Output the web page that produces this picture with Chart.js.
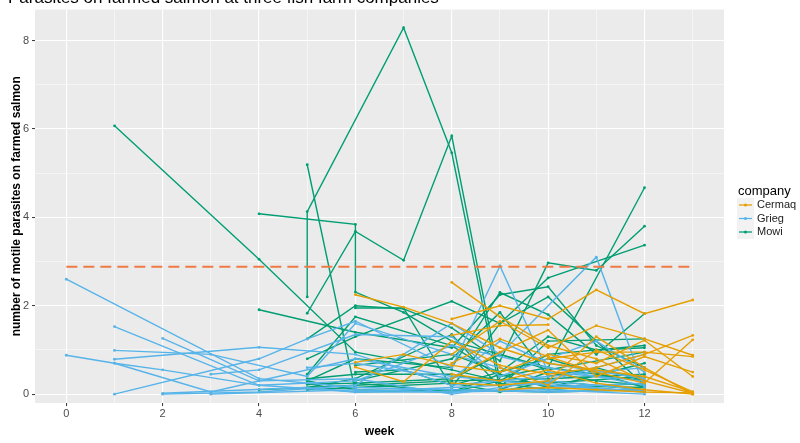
<!DOCTYPE html>
<html>
<head>
<meta charset="utf-8">
<script src="https://cdn.jsdelivr.net/npm/chart.js@4"></script>
<style>
html,body{margin:0;padding:0;background:#fff;}
</style>
</head>
<body>
<canvas id="chart" width="800" height="443"></canvas>
<script>
// tick labels
const weekTicks = [0,1,2,3,4,5,6,7,8,9,10,11,12,13];
const countTicks = [0,1,2,3,4,5,6,7,8];

const companies = ['Cermaq', 'Grieg', 'Mowi'];
const companyColors = ['#E69F00', '#56B4E9', '#009E73'];

// threshold (dashed)
const thresholdWeeks = [0, 13];
const thresholdValue = 2.88;

// one line per farm: [week, motile parasites]
const cermaqFarms = [
  [[6,2.25],[7,1.97],[8,1.6],[9,1.05],[10,0.7],[12,0.4],[13,0.05]],
  [[8,2.53],[9,1.75],[10,1.1],[11,0.8],[12,0.3],[13,0.02]],
  [[8,1.7],[9,2.0],[10,1.7],[11,2.36],[12,1.82],[13,2.13]],
  [[8,1.33],[9,1.55],[10,1.57]],
  [[8,0.9],[9,1.65],[10,1.05],[11,1.55],[12,1.25],[13,0.88]],
  [[6,0.72],[7,0.9],[8,0.65],[9,0.5],[10,0.9],[11,0.7],[12,1.22],[13,0.4]],
  [[6,0.61],[7,0.28],[8,1.2],[9,0.65],[10,0.45],[11,0.6],[12,0.9],[13,1.33]],
  [[8,0.7],[9,1.25],[10,0.85],[11,0.5],[12,0.25],[13,1.23]],
  [[8,0.35],[9,0.95],[10,1.45],[11,0.4],[12,0.85],[13,0.5]],
  [[8,0.45],[9,0.3],[10,0.55],[11,0.25],[12,0.1],[13,0.0]],
  [[9,0.6],[10,0.2],[11,1.0],[12,0.55],[13,0.05]],
  [[8,0.25],[9,0.2],[10,0.3],[11,1.3],[12,0.6],[13,0.0]],
  [[10,0.8],[11,0.95],[12,0.95],[13,0.85]],
  [[9,0.1],[10,0.15],[11,0.1],[12,0.05],[13,0.03]]
];

const griegFarms = [
  [[0,2.6],[4,0.35],[6,0.15],[8,0.1],[10,0.05],[12,0.1]],
  [[0,0.88],[1,0.7],[3,0.05],[6,0.8],[8,0.4],[10,0.2],[12,0.05]],
  [[1,1.53],[4,0.2],[6,0.3],[8,1.1],[10,0.6],[12,0.2]],
  [[1,0.99],[3,0.9],[5,0.4],[6,1.6],[8,0.9],[10,0.3],[12,0.1]],
  [[1,0.79],[4,1.06],[6,0.9],[8,0.2],[10,0.4],[12,0.6]],
  [[1,0.7],[2,0.55],[4,0.2],[6,0.05],[8,0.15],[10,0.25],[12,0.05]],
  [[1,0.0],[4,0.8],[5,1.25],[6,1.65],[8,0.6],[9,2.9],[10,0.5],[12,0.3]],
  [[2,0.0],[4,0.05],[6,0.2],[8,1.6],[9,0.9],[11,3.1],[12,0.15]],
  [[2,1.26],[4,0.3],[6,0.35],[8,0.0],[10,0.3],[12,0.9]],
  [[2,0.02],[5,0.15],[6,0.05],[8,0.05],[10,0.15],[12,0.25]],
  [[3,0.45],[4,0.55],[6,1.35],[8,1.3],[9,0.4],[11,1.2],[12,0.5]],
  [[3,0.0],[6,0.1],[8,0.05],[10,0.1],[12,0.0]],
  [[5,0.6],[6,0.7],[8,0.35],[9,1.2],[10,0.7],[12,0.35]]
];

const mowiFarms = [
  [[1,6.07],[4,3.05],[6,0.95],[8,0.55],[9,0.3],[10,0.2],[12,0.15]],
  [[4,4.08],[6,3.84],[6,2.31],[7,1.85],[8,1.2],[10,0.6],[12,0.3]],
  [[5,1.83],[6,3.68],[7,3.03],[8,5.84],[9,0.3],[10,0.9],[12,1.1]],
  [[5,5.19],[6,0.05],[8,0.1],[10,0.05],[12,0.1]],
  [[5,2.2],[5,4.13],[7,8.29],[8,5.46],[9,0.1],[10,0.5],[11,0.3],[12,0.2]],
  [[4,1.91],[6,1.4],[8,1.05],[9,2.25],[10,2.43],[11,1.1],[12,0.6]],
  [[5,1.25],[6,2.0],[7,1.93],[8,1.5],[9,0.75],[10,2.97],[11,2.8],[12,3.8]],
  [[5,0.8],[6,1.3],[8,2.1],[9,1.6],[10,2.63],[12,3.37]],
  [[5,0.45],[6,1.75],[8,1.1],[9,0.4],[10,0.6],[12,4.67]],
  [[5,0.3],[6,0.8],[8,0.6],[9,2.3],[10,1.8],[11,0.9],[12,1.82]],
  [[5,0.15],[6,0.35],[8,1.35],[9,0.15],[10,1.2],[12,1.25]],
  [[5,0.22],[6,0.25],[8,0.35],[9,0.9],[10,0.55],[12,0.95]],
  [[5,0.3],[6,0.1],[8,0.05],[9,0.3],[10,0.25],[12,0.4]],
  [[6,1.95],[7,1.95],[8,0.15],[9,1.6],[10,2.2],[12,0.2]],
  [[6,0.3],[8,0.8],[9,1.85],[10,0.4],[11,0.6],[12,0.3]],
  [[4,0.1],[6,0.2],[8,0.3],[10,0.35],[12,0.45]],
  [[6,0.5],[7,0.55],[8,0.2],[10,0.8],[12,0.15]],
  [[5,0.35],[6,0.45],[8,0.45],[9,0.25],[10,0.1],[12,0.25]],
  [[6,0.65],[8,0.9],[9,0.5],[10,1.3],[11,1.0],[12,1.05]],
  [[5,0.1],[6,0.15],[8,0.25],[9,0.05],[10,0.3],[12,0.1]],
  [[6,0.25],[8,0.05],[9,0.45],[10,0.15],[12,0.7]]
];

const farmGroups = [cermaqFarms, griegFarms, mowiFarms];

const datasets = [{
  label: 'threshold',
  data: thresholdWeeks.map(w => ({x: w, y: thresholdValue})),
  borderColor: '#EE7B45',
  borderWidth: 2,
  borderDash: [11, 6],
  pointRadius: 0
}];

farmGroups.forEach((farms, c) => {
  farms.forEach((f, i) => {
    datasets.push({
      label: companies[c] + ' ' + (i + 1),
      data: f.map(p => ({x: p[0], y: p[1]})),
      borderColor: companyColors[c],
      backgroundColor: companyColors[c],
      borderWidth: 1.4,
      pointRadius: 1.4,
      pointBorderWidth: 0,
      tension: 0
    });
  });
});

const isMajor = v => v % 2 === 0;

const panelBg = {
  id: 'panelBg',
  beforeDraw(chart) {
    const a = chart.chartArea, ctx = chart.ctx;
    ctx.save();
    ctx.fillStyle = '#EBEBEB';
    ctx.fillRect(a.left, a.top, a.right - a.left, a.bottom - a.top);
    ctx.restore();
  }
};

const texts = {
  id: 'texts',
  afterDraw(chart) {
    const a = chart.chartArea, ctx = chart.ctx;
    ctx.save();
    ctx.fillStyle = '#000';
    ctx.font = '17px "Liberation Sans", Arial, sans-serif';
    ctx.textAlign = 'left';
    ctx.textBaseline = 'alphabetic';
    ctx.fillText('Parasites on farmed salmon at three fish farm companies', 8, 3);

    ctx.font = 'bold 12px "Liberation Sans", Arial, sans-serif';
    ctx.textAlign = 'center';
    ctx.textBaseline = 'middle';
    ctx.fillText('week', (a.left + a.right) / 2, 432);
    ctx.translate(17, (a.top + a.bottom) / 2);
    ctx.rotate(-Math.PI / 2);
    ctx.fillText('number of motile parasites on farmed salmon', 0, 0);
    ctx.restore();

    // legend
    ctx.save();
    ctx.fillStyle = '#000';
    ctx.font = '13px "Liberation Sans", Arial, sans-serif';
    ctx.textAlign = 'left';
    ctx.textBaseline = 'middle';
    ctx.fillText('company', 738, 191);
    companies.forEach((name, i) => {
      const y = 205 + i * 13.5;
      ctx.fillStyle = '#F2F2F2';
      ctx.fillRect(737, y - 7, 17, 14);
      ctx.strokeStyle = companyColors[i];
      ctx.lineWidth = 1.3;
      ctx.beginPath();
      ctx.moveTo(739, y);
      ctx.lineTo(752, y);
      ctx.stroke();
      ctx.fillStyle = companyColors[i];
      ctx.beginPath();
      ctx.arc(745.5, y, 1.5, 0, Math.PI * 2);
      ctx.fill();
      ctx.fillStyle = '#1A1A1A';
      ctx.font = '11px "Liberation Sans", Arial, sans-serif';
      ctx.fillText(name, 757, y);
    });
    ctx.restore();
  }
};

const gridOpts = {
  color: '#FFFFFF',
  lineWidth: ctx => (ctx.tick && isMajor(ctx.tick.value)) ? 1.1 : 0.5,
  tickColor: ctx => (ctx.tick && isMajor(ctx.tick.value)) ? '#333333' : 'rgba(0,0,0,0)',
  tickLength: 3,
  tickWidth: 1,
  drawTicks: true
};

new Chart(document.getElementById('chart'), {
  type: 'line',
  data: { datasets: datasets },
  options: {
    responsive: false,
    animation: false,
    devicePixelRatio: 1,
    layout: { padding: { top: 8, right: 76, bottom: 0, left: 0 } },
    plugins: { legend: { display: false }, tooltip: { enabled: false } },
    scales: {
      x: {
        type: 'linear',
        min: -0.65,
        max: 13.65,
        afterBuildTicks: s => { s.ticks = weekTicks.map(v => ({value: v})); },
        afterFit: s => { s.height = 40; },
        border: { display: false },
        grid: gridOpts,
        ticks: {
          autoSkip: false,
          maxRotation: 0,
          padding: 1,
          color: '#4D4D4D',
          font: { size: 11, family: '"Liberation Sans", Arial, sans-serif' },
          callback: v => isMajor(v) ? v : ''
        }
      },
      y: {
        type: 'linear',
        min: -0.2,
        max: 8.7,
        afterBuildTicks: s => { s.ticks = countTicks.map(v => ({value: v})); },
        afterFit: s => { s.width = 35; },
        border: { display: false },
        grid: gridOpts,
        ticks: {
          autoSkip: false,
          padding: 3,
          color: '#4D4D4D',
          font: { size: 11, family: '"Liberation Sans", Arial, sans-serif' },
          callback: v => isMajor(v) ? v : ''
        }
      }
    }
  },
  plugins: [panelBg, texts]
});
</script>
</body>
</html>
